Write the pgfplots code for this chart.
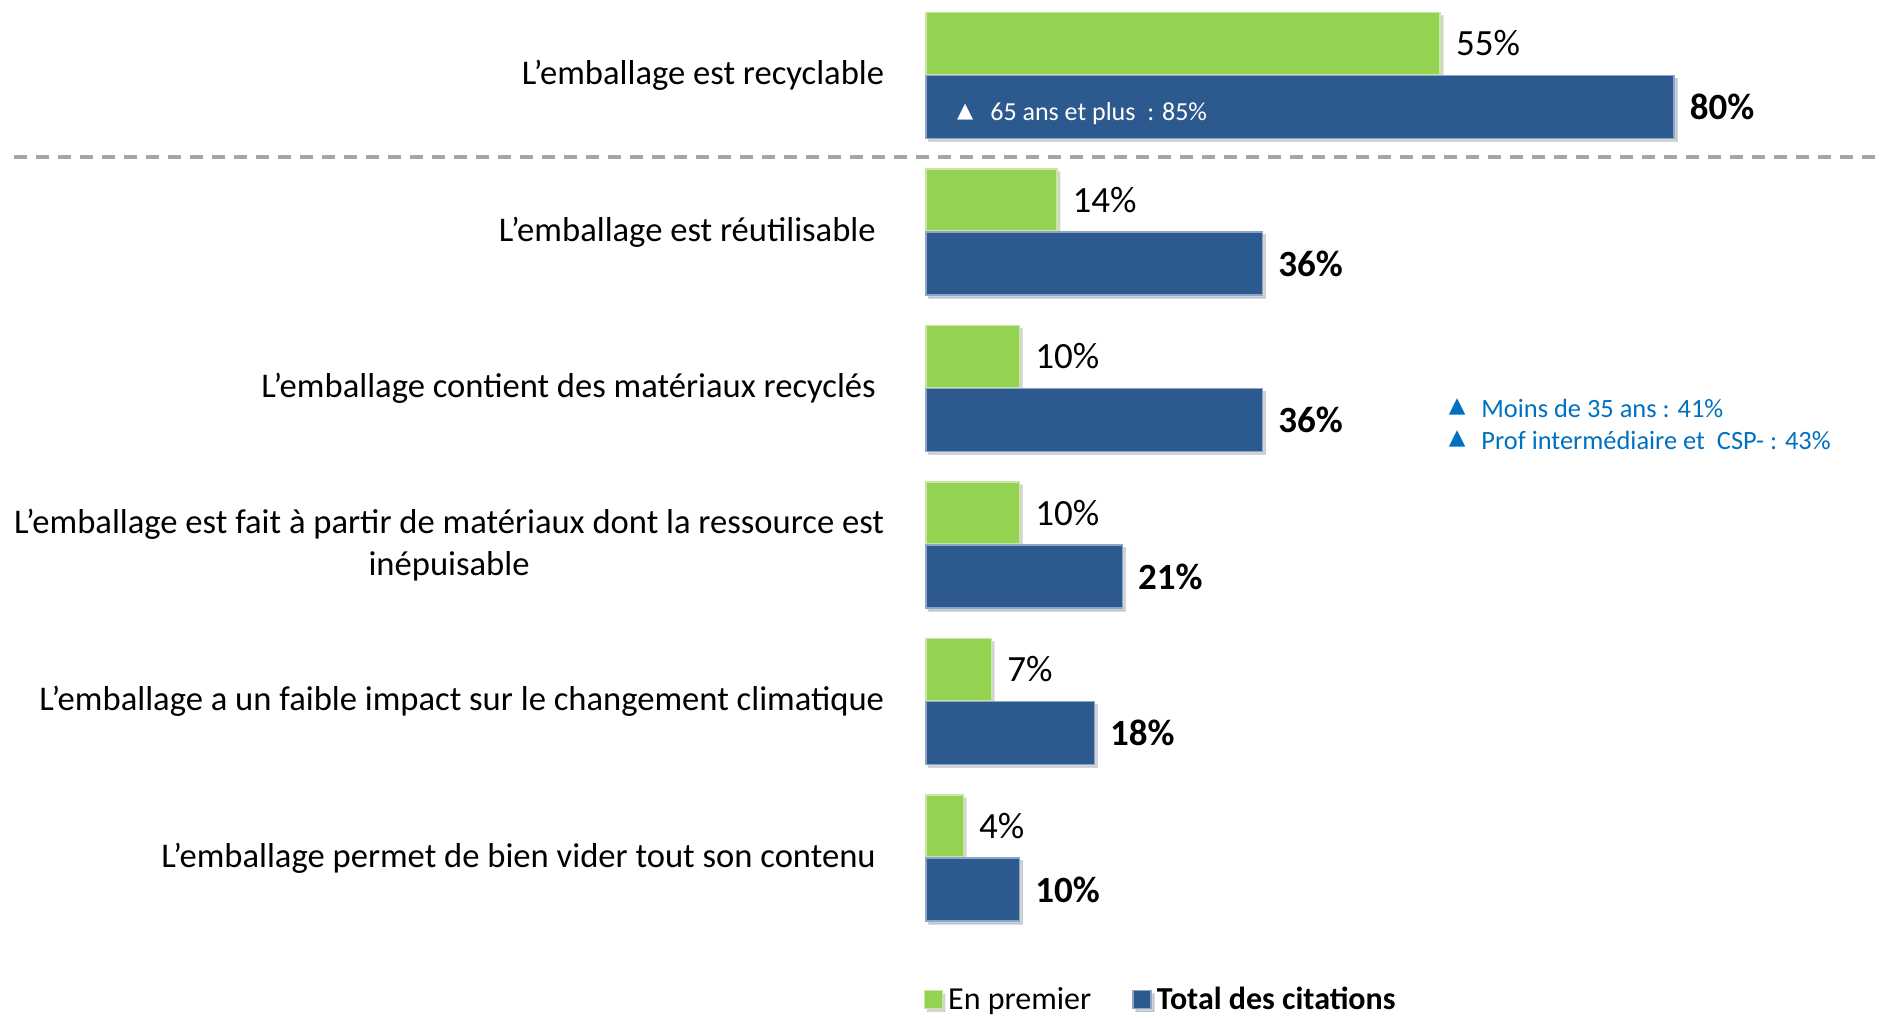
\documentclass[border=0pt]{standalone}
\usepackage{fontspec}
\setmainfont{Carlito}
\newfontfamily\sym{DejaVu Sans}
\usepackage{pgfplots}
\pgfplotsset{compat=1.18}
\usetikzlibrary{shadows}

\definecolor{gfill}{HTML}{94D252}
\definecolor{gedge}{HTML}{C8E6A4}
\definecolor{bfill}{HTML}{2D5A8E}
\definecolor{bedge}{HTML}{8CA5C8}
\definecolor{annot}{HTML}{0070C0}
\definecolor{dashgray}{HTML}{A6A6A6}

\begin{document}
\begin{tikzpicture}
\path[use as bounding box] (0,0) rectangle (944pt,-508.5pt);
\begin{axis}[
    at={(463pt,-2.5pt)}, anchor=north west,
    x=4.675pt, y=78.25pt, y dir=reverse,
    xmin=0, xmax=100, ymin=-0.45, ymax=5.45,
    xbar,
    hide x axis,
    axis y line*=left,
    y axis line style={draw=none},
    ytick style={draw=none},
    ytick={0,1,2,3,4,5},
    yticklabels={
        {L’emballage est recyclable},
        {L’emballage est réutilisable\hspace*{4.2pt}},
        {L’emballage contient des matériaux recyclés\hspace*{4.2pt}},
        {L’emballage est fait à partir de matériaux dont la ressource est\\inépuisable},
        {L’emballage a un faible impact sur le changement climatique},
        {L’emballage permet de bien vider tout son contenu\hspace*{4.2pt}}},
    yticklabel style={align=center, inner sep=0pt, xshift=-16.5pt,
        font=\fontsize{17.3}{21}\selectfont},
    clip=false,
    point meta=x,
    /pgf/number format/assume math mode=true,
    nodes near coords={\pgfmathprintnumber{\pgfplotspointmeta}\%},
    nodes near coords align={horizontal},
    every node near coord/.append style={inner sep=0pt, xshift=7.5pt},
    legend image code/.code={\fill[#1] (0pt,-4.5pt) rectangle (9pt,4.5pt);},
    legend columns=2,
    legend style={at={(axis cs:-0.3,5.905)}, anchor=west, draw=none, fill=none,
        inner sep=0pt, nodes={inner sep=1.5pt, text depth=0.15em},
        column sep=1pt, /tikz/column 2/.style={column sep=19pt},
        font=\fontsize{16}{18}\selectfont},
]
\addplot[fill=gfill, draw=gedge, line width=0.8pt,
    bar width=31pt, bar shift=16pt,
    drop shadow={shadow xshift=1.5pt, shadow yshift=-1.5pt, opacity=0.35},
    every node near coord/.append style={font=\fontsize{18.5}{20}\selectfont}]
    coordinates {(55,0) (14,1) (10,2) (10,3) (7,4) (4,5)};
\addlegendentry{En premier}
\addplot[fill=bfill, draw=bedge, line width=0.8pt,
    bar width=31.5pt, bar shift=-15.75pt,
    drop shadow={shadow xshift=1.5pt, shadow yshift=-1.5pt, opacity=0.35},
    every node near coord/.append style={font=\bfseries\fontsize{18.5}{20}\selectfont}]
    coordinates {(80,0) (36,1) (36,2) (21,3) (18,4) (10,5)};
\addlegendentry{\textbf{Total des citations}}

% separator
\draw[dashgray, line width=2pt, dash pattern=on 6.5pt off 4.5pt]
    (axis cs:-97.5,0.518) -- (axis cs:101.8,0.518);

% annotations
\node[white, font=\sym\fontsize{10.5}{12}\selectfont, inner sep=0pt] at (axis cs:4.2,0.236) {▲};
\node[white, anchor=base west, inner sep=0pt, font=\fontsize{13}{15}\selectfont]
    at (axis cs:6.84,0.2875) {65 ans et plus\ \ : 85\%};
\node[annot, font=\sym\fontsize{10.8}{12}\selectfont, inner sep=0pt] at (axis cs:56.8,2.119) {▲};
\node[annot, font=\sym\fontsize{10.8}{12}\selectfont, inner sep=0pt] at (axis cs:56.8,2.32) {▲};
\node[annot, anchor=base west, inner sep=0pt, font=\fontsize{13.2}{15}\selectfont]
    at (axis cs:59.36,2.185) {Moins de 35 ans : 41\%};
\node[annot, anchor=base west, inner sep=0pt, font=\fontsize{13.2}{15}\selectfont]
    at (axis cs:59.36,2.39) {Prof intermédiaire et\ \ CSP- : 43\%};
\end{axis}
\end{tikzpicture}
\end{document}
